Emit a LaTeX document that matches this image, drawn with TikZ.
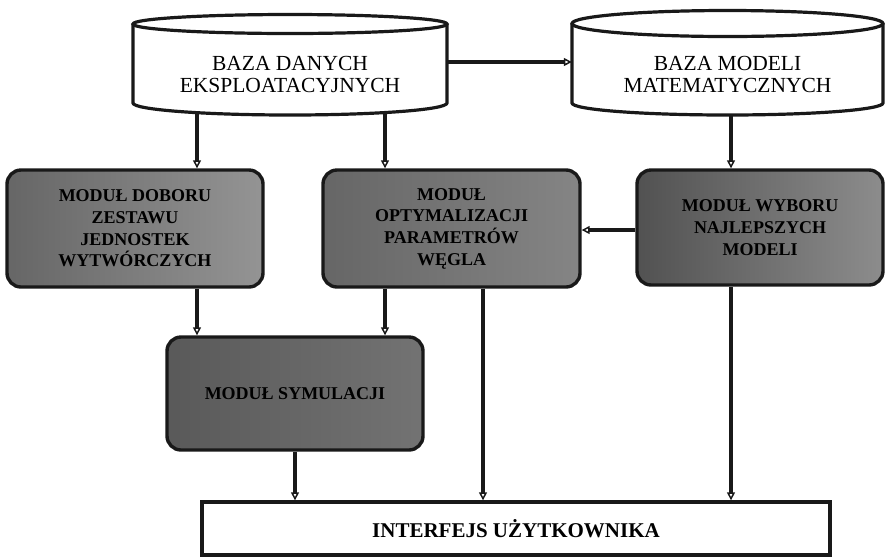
\documentclass[tikz,border=0pt]{standalone}
\usepackage{fontspec}
\setmainfont{Liberation Serif}
\usetikzlibrary{arrows.meta,calc}
\begin{document}
\begin{tikzpicture}[x=1pt,y=-1pt,
  cyl/.style={line width=3.2pt, draw=black!90},
  dbnode/.style={inner sep=0pt, align=center, text=black, font=\fontsize{21.5}{22}\selectfont},
  modbox/.style={draw=black!90, line width=3.4pt, rounded corners=14pt, align=center, inner sep=0pt, text=black, font=\bfseries\fontsize{18}{21.7}\selectfont},
  ifbox/.style={draw=black!90, line width=3.4pt, fill=white, align=center, inner sep=0pt, text=black, font=\bfseries\fontsize{21}{24}\selectfont},
  arr/.style={line width=3.2pt, draw=black!90, -{Triangle[open, length=8pt, width=8pt, line width=1.5pt]}}
]
\useasboundingbox (0,0) rectangle (885,558);

% databases
\node[dbnode, minimum width=314pt, minimum height=78pt] (db1) at (290,74) {BAZA DANYCH\\EKSPLOATACYJNYCH};
\node[dbnode, minimum width=311pt, minimum height=82pt] (db2) at (727.5,74) {BAZA MODELI\\MATEMATYCZNYCH};
\draw[cyl] (290,24) ellipse [x radius=157, y radius=9.5];
\draw[cyl] (133,24) -- (133,103) arc[start angle=180, end angle=0, x radius=157, y radius=12] -- (447,24);
\draw[cyl] (727.5,23.5) ellipse [x radius=155.5, y radius=13];
\draw[cyl] (572,23.5) -- (572,103) arc[start angle=180, end angle=0, x radius=155.5, y radius=12] -- (883,23.5);

% modules
\node[modbox, minimum width=256pt, minimum height=117pt, left color=black!60, middle color=black!50, right color=black!42] (b1) at (135,228.5) {MODUŁ DOBORU\\ZESTAWU\\JEDNOSTEK\\WYTWÓRCZYCH};
\node[modbox, minimum width=257pt, minimum height=117pt, left color=black!60, middle color=black!28, right color=black!48] (b2) at (451.5,228.5) {MODUŁ\\OPTYMALIZACJI\\PARAMETRÓW\\WĘGLA};
\node[modbox, minimum width=246pt, minimum height=115pt, left color=black!68, middle color=black!28, right color=black!45] (b3) at (760,227.5) {MODUŁ WYBORU\\NAJLEPSZYCH\\MODELI};
\node[modbox, minimum width=256pt, minimum height=113pt, left color=black!65, middle color=black!60, right color=black!55] (b4) at (295,393.5) {MODUŁ SYMULACJI};
\node[ifbox, minimum width=628pt, minimum height=53pt] (iface) at (516,528.5) {INTERFEJS UŻYTKOWNIKA};

% helper coordinates
\coordinate (xa) at (197,0);
\coordinate (xb) at (385,0);
\coordinate (xc) at (731,0);
\coordinate (xd) at (483,0);
\coordinate (ya) at (0,62);
\coordinate (yb) at (0,230);

% connectors
\draw[arr] (db1.east |- ya) -- (db2.west |- ya);
\draw[arr] (db1.south -| xa) -- (b1.north -| xa);
\draw[arr] (db1.south -| xb) -- (b2.north -| xb);
\draw[arr] (db2.south -| xc) -- (b3.north -| xc);
\draw[arr] (b3.west |- yb) -- (b2.east |- yb);
\draw[arr] (b1.south -| xa) -- (b4.north -| xa);
\draw[arr] (b2.south -| xb) -- (b4.north -| xb);
\draw[arr] (b4.south) -- (iface.north -| b4.south);
\draw[arr] (b2.south -| xd) -- (iface.north -| xd);
\draw[arr] (b3.south -| xc) -- (iface.north -| xc);
\end{tikzpicture}
\end{document}
